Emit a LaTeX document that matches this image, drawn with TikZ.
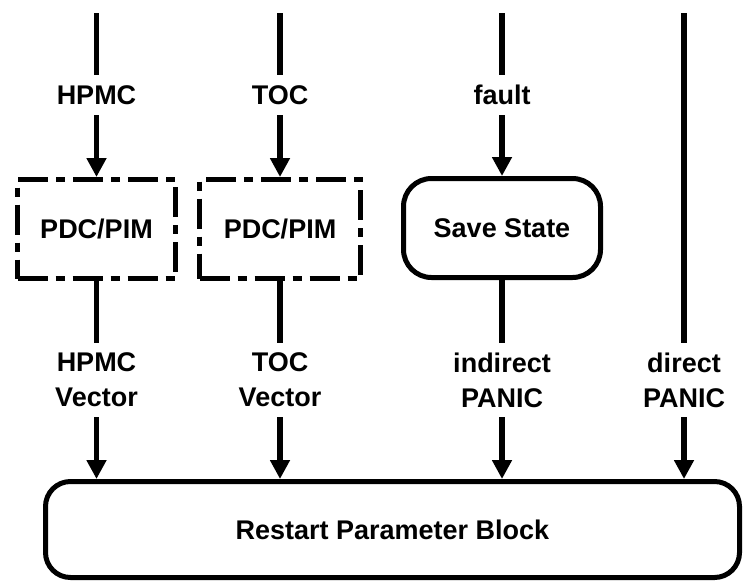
\documentclass[tikz,border=0pt]{standalone}
\usepackage{fontspec}
\setmainfont{Liberation Sans}
\usetikzlibrary{arrows.meta}
\begin{document}
\begin{tikzpicture}[x=1pt,y=-1pt,
  every node/.style={font=\fontsize{27}{35}\selectfont\bfseries, inner sep=0pt},
  wire/.style={line width=5.5pt},
  arr/.style={wire,-{Triangle[length=19pt,width=19pt]}},
  lab1/.style={text height=19pt,text depth=0pt,minimum height=40pt},
  lab2/.style={align=center,minimum height=74pt},
  dbox/.style={draw,line width=5pt,dash pattern=on 30pt off 8pt on 9pt off 8pt,minimum width=158pt,minimum height=99pt},
  sbox/.style={draw,line width=5pt,rounded corners=28pt,minimum width=197pt,minimum height=99pt},
  rbox/.style={draw,line width=5pt,rounded corners=25pt,minimum width=694pt,minimum height=96pt}]
\useasboundingbox (0,0) rectangle (743,581);

% boxes
\node[dbox] (b1) at (96.5,229) {PDC/PIM};
\node[dbox,minimum width=161pt] (b2) at (280,229) {PDC/PIM};
\node[sbox] (b3) at (502,228) {Save State};
\node[rbox] (rpb) at (392.5,529.5) {Restart Parameter Block};

% labels
\node[lab1] (l1) at (96.5,95) {HPMC};
\node[lab1] (l2) at (280,95) {TOC};
\node[lab1] (l3) at (502,95) {fault};
\node[lab2] (m1) at (96.5,380) {HPMC\\Vector};
\node[lab2] (m2) at (280,380) {TOC\\Vector};
\node[lab2] (m3) at (502,380) {indirect\\PANIC};
\node[lab2] (m4) at (684,380) {direct\\PANIC};

% free top ends
\coordinate (t1) at (96.5,13);
\coordinate (t2) at (280,13);
\coordinate (t3) at (502,13);
\coordinate (t4) at (684,13);

% connectors
\draw[wire] (t1) -- (l1);
\draw[arr] (l1) -- (b1);
\draw[wire] (b1) -- (m1);
\draw[arr] (m1) -- (m1 |- rpb.north);

\draw[wire] (t2) -- (l2);
\draw[arr] (l2) -- (b2);
\draw[wire] (b2) -- (m2);
\draw[arr] (m2) -- (m2 |- rpb.north);

\draw[wire] (t3) -- (l3);
\draw[arr] (l3) -- (b3);
\draw[wire] (b3) -- (m3);
\draw[arr] (m3) -- (m3 |- rpb.north);

\draw[wire] (t4) -- (m4);
\draw[arr] (m4) -- (m4 |- rpb.north);
\end{tikzpicture}
\end{document}
